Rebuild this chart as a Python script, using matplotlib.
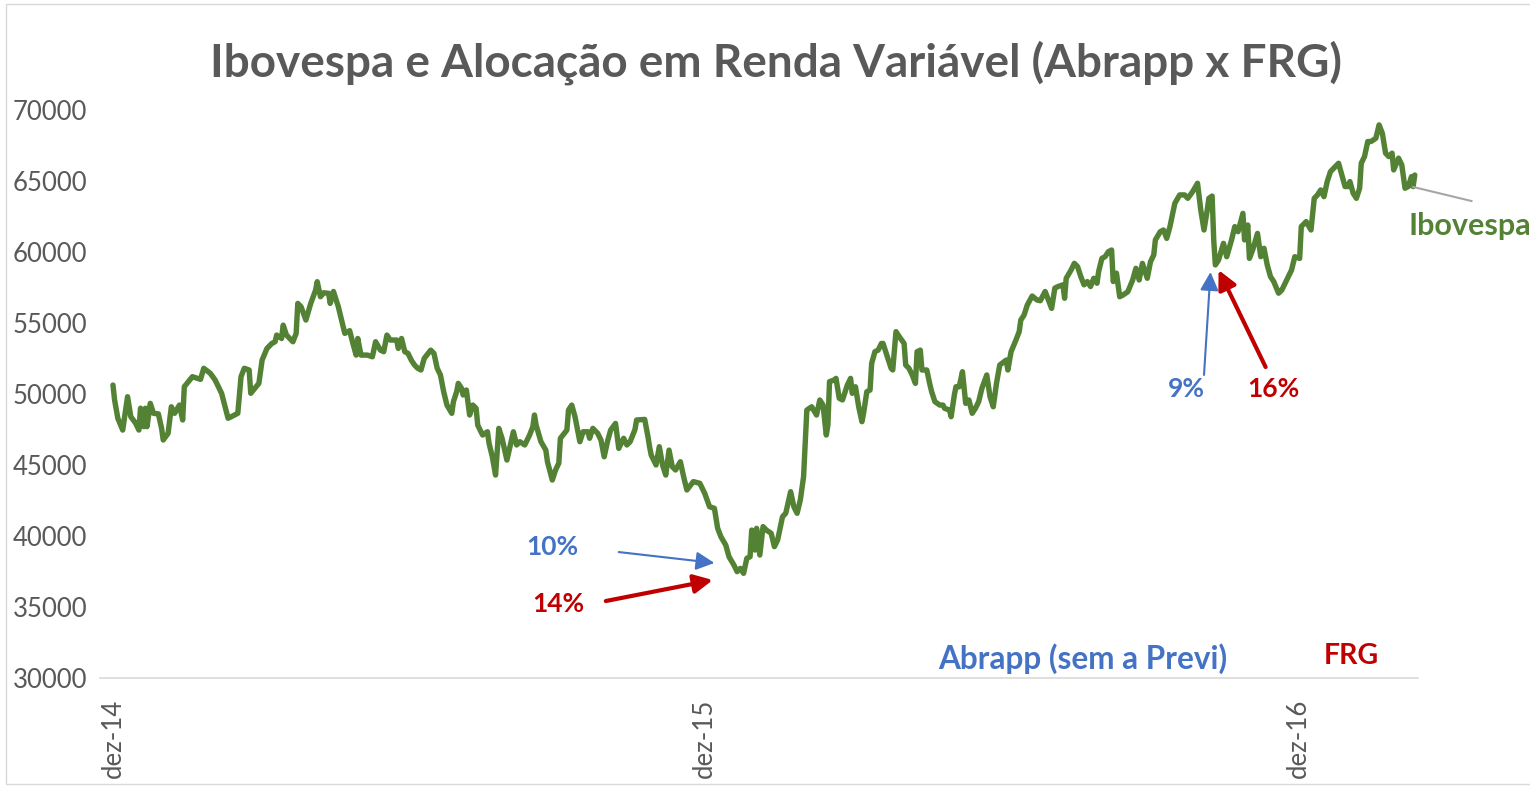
import matplotlib
matplotlib.use('Agg')
import matplotlib.pyplot as plt
import matplotlib.patches as mpatches

# --- dados (dias desde 01/12/2014, pontos do Ibovespa) ---
days = [0, 1, 3, 6, 9, 11, 14, 16, 17, 19, 20, 21, 23, 25, 28, 30, 31, 34, 36, 38,
        41, 43, 44, 49, 54, 56, 60, 63, 67, 71, 73, 77, 79, 81, 84, 85, 90, 92, 95, 98,
        100, 101, 104, 105, 107, 111, 113, 114, 116, 119, 122, 125, 126, 128, 130, 133, 134, 136, 139, 142,
        143, 146, 148, 150, 151, 153, 157, 160, 162, 165, 167, 169, 171, 175, 176, 178, 180, 182, 184, 186,
        188, 190, 192, 196, 198, 200, 202, 204, 206, 209, 210, 212, 213, 215, 216, 218, 220, 222, 224, 225,
        228, 231, 232, 234, 236, 238, 240, 243, 247, 249, 251, 254, 257, 259, 260, 261, 264, 267, 268, 271,
        273, 275, 276, 280, 281, 283, 285, 288, 290, 293, 294, 296, 299, 301, 303, 305, 307, 310, 312, 315,
        317, 319, 322, 323, 328, 330, 331, 332, 335, 337, 339, 341, 343, 345, 347, 350, 352, 354, 358, 362,
        365, 368, 371, 373, 375, 378, 380, 383, 385, 387, 389, 391, 393, 394, 396, 397, 399, 401, 403, 406,
        408, 410, 413, 415, 418, 420, 422, 424, 426, 427, 428, 431, 434, 436, 438, 440, 441, 442, 445, 446,
        448, 450, 453, 455, 456, 458, 460, 462, 463, 465, 467, 468, 470, 472, 474, 475, 477, 480, 481, 483,
        485, 488, 489, 491, 493, 495, 496, 498, 499, 502, 504, 505, 507, 510, 512, 513, 516, 517, 519, 520,
        522, 524, 526, 528, 530, 532, 534, 536, 539, 541, 543, 545, 547, 551, 552, 554, 557, 559, 560, 562,
        564, 567, 570, 572, 575, 577, 579, 581, 583, 586, 587, 588, 591, 593, 595, 597, 599, 601, 603, 605,
        607, 608, 610, 612, 614, 616, 617, 619, 621, 623, 626, 629, 631, 633, 635, 638, 640, 642, 643, 646,
        648, 650, 652, 655, 658, 661, 663, 666, 669, 671, 673, 675, 676, 678, 679, 680, 682, 685, 687, 690,
        692, 694, 697, 698, 700, 701, 703, 706, 708, 710, 712, 714, 716, 719, 721, 724, 727, 729, 732, 733,
        736, 739, 741, 743, 745, 747, 749, 751, 756, 758, 760, 762, 763, 765, 767, 769, 770, 772, 774, 776,
        779, 781, 783, 785, 787, 789, 790, 793, 795, 797, 799, 801, 802, 803]

ibovespa = [50630, 49580, 48290, 47460, 49810, 48400, 47940, 47460, 49000, 47700, 49000, 47700, 49340, 48640, 48600, 47580, 46760, 47230, 49100, 48640,
            49220, 48170, 50510, 51220, 51030, 51810, 51460, 50990, 50050, 48290, 48400, 48640, 51220, 51810, 51690, 50050, 50750, 52390, 53210, 53560,
            53680, 54150, 53910, 54850, 54150, 53680, 54270, 56380, 56150, 55210, 56380, 57320, 57910, 56850, 57130, 57090, 56380, 57220, 56150, 54740,
            54270, 54460, 53560, 52740, 53910, 52740, 52740, 52620, 53680, 53090, 52980, 54150, 53800, 53800, 53210, 53910, 52980, 52860, 52390, 52040,
            51810, 51690, 52510, 53090, 52860, 51810, 51340, 50160, 49220, 48640, 49460, 50160, 50750, 50400, 49930, 50280, 48520, 49220, 48990, 47810,
            47110, 47340, 46520, 45580, 44290, 47580, 46880, 45350, 47340, 46410, 46640, 46410, 47110, 47700, 48520, 47810, 46640, 46050, 45230, 43940,
            44650, 45120, 46880, 47460, 48870, 49220, 48400, 46640, 47340, 47340, 46880, 47580, 47230, 46760, 45580, 46640, 47460, 47930, 46170, 46880,
            46410, 46640, 47500, 48170, 48210, 47000, 46290, 45700, 45000, 46290, 45000, 44290, 46050, 44880, 44650, 45230, 44180, 43240, 43830, 43710,
            43010, 42060, 41950, 40540, 39950, 39360, 38540, 37960, 37490, 37720, 37370, 38430, 38540, 40420, 39010, 40540, 38660, 40660, 40420, 40190,
            39250, 39720, 41360, 41600, 43120, 42060, 41600, 42540, 44180, 46520, 48870, 49100, 48520, 49580, 49220, 47110, 47810, 50870, 50990, 51100,
            49700, 49580, 50630, 51100, 50050, 50510, 49100, 48050, 48640, 50160, 50280, 52160, 52980, 53090, 53560, 53560, 52860, 51810, 51690, 54390,
            54040, 53560, 52040, 51810, 51340, 50750, 52980, 53090, 51690, 51690, 50630, 50160, 49460, 49220, 49220, 48990, 48870, 48400, 49930, 50510,
            50510, 51570, 49340, 49580, 48640, 48990, 49460, 50400, 51340, 49810, 49100, 50750, 52040, 52390, 51690, 52980, 53800, 54390, 55210, 55560,
            56270, 56900, 56620, 56570, 57220, 56620, 56030, 57460, 57570, 57690, 56740, 58150, 58730, 59200, 58970, 58270, 57690, 57920, 57570, 58150,
            57800, 58620, 59550, 59670, 60020, 60140, 57920, 58510, 56850, 56970, 57200, 58030, 58850, 58030, 59200, 58150, 59320, 59790, 60850, 61430,
            61550, 60960, 61790, 63430, 64020, 64020, 63780, 64250, 64840, 62960, 61550, 62960, 63780, 63940, 60850, 59090, 59440, 60610, 59670, 60850,
            61790, 61430, 62720, 60850, 61900, 59550, 60140, 61310, 59670, 60260, 59090, 58270, 57920, 57100, 57320, 58030, 58730, 59670, 59550, 61790,
            62140, 61550, 63780, 64020, 64370, 63900, 64960, 65660, 66250, 65420, 64610, 64610, 64960, 64140, 63780, 64490, 66250, 66720, 67780, 67780,
            68010, 68950, 68360, 66960, 66720, 66960, 65780, 66610, 66130, 64490, 64610, 65310, 64610, 65420]

tick_days = [0, 365, 731]
tick_labels = ['dez-14', 'dez-15', 'dez-16']
y_ticks = [30000, 35000, 40000, 45000, 50000, 55000, 60000, 65000, 70000]

GREEN = '#548235'
BLUE = '#4472C4'
RED = '#C00000'
GRAY = '#595959'

plt.rcParams['font.family'] = ['Lato', 'DejaVu Sans']

fig = plt.figure(figsize=(15.3, 7.87), dpi=100)
ax = fig.add_axes([100 / 1530, 109 / 787, 1318 / 1530, 568 / 787])

# borda do gráfico
fig.patches.append(mpatches.Rectangle((6 / 1530, 3 / 787), 1.1, 780 / 787, transform=fig.transFigure,
                                      fill=False, edgecolor='#D9D9D9', lw=1))

ax.plot(days, ibovespa, color=GREEN, lw=3.9, solid_joinstyle='round', solid_capstyle='round')

ax.set_xlim(-8, 805)
ax.set_ylim(30000, 70000)
ax.set_yticks(y_ticks)
ax.set_yticklabels([str(v) for v in y_ticks])
ax.set_xticks(tick_days)
ax.set_xticklabels(tick_labels, rotation=90)
ax.tick_params(axis='y', length=0, pad=9, labelsize=18.5, labelcolor=GRAY)
ax.tick_params(axis='x', length=0, pad=15, labelsize=18.5, labelcolor=GRAY)
for s in ['top', 'right', 'left']:
    ax.spines[s].set_visible(False)
ax.spines['bottom'].set_color('#D9D9D9')
ax.spines['bottom'].set_linewidth(1.2)

fig.text(776 / 1530, 1 - 63 / 787, 'Ibovespa e Alocação em Renda Variável (Abrapp x FRG)',
         ha='center', va='center', fontsize=33, fontweight='bold', color=GRAY)

# setas e rótulos
ax.annotate('', xy=(371, 38100), xytext=(312, 38870),
            arrowprops=dict(arrowstyle='-|>', color=BLUE, lw=1.5, mutation_scale=28, shrinkA=0, shrinkB=0))
ax.annotate('', xy=(370, 36900), xytext=(304, 35420),
            arrowprops=dict(arrowstyle='-|>', color=RED, lw=3, mutation_scale=28, shrinkA=0, shrinkB=0))
ax.annotate('', xy=(677, 58590), xytext=(673, 51340),
            arrowprops=dict(arrowstyle='-|>', color=BLUE, lw=1.5, mutation_scale=28, shrinkA=0, shrinkB=0))
ax.annotate('', xy=(682, 58730), xytext=(711, 51900),
            arrowprops=dict(arrowstyle='-|>', color=RED, lw=3, mutation_scale=28, shrinkA=0, shrinkB=0))

ax.text(271, 39225, '10%', color=BLUE, fontsize=19, fontweight='bold', ha='center', va='center')
ax.text(275, 35210, '14%', color=RED, fontsize=19, fontweight='bold', ha='center', va='center')
ax.text(662, 50350, '9%', color=BLUE, fontsize=19, fontweight='bold', ha='center', va='center')
ax.text(716, 50350, '16%', color=RED, fontsize=19, fontweight='bold', ha='center', va='center')
ax.text(598, 31340, 'Abrapp (sem a Previ)', color=BLUE, fontsize=22.7, fontweight='bold', ha='center', va='center')
ax.text(764, 31550, 'FRG', color=RED, fontsize=20.5, fontweight='bold', ha='center', va='center')

ax.plot([802, 838], [64580, 63590], color='#A6A6A6', lw=1.5, clip_on=False)
ax.text(799, 61830, 'Ibovespa', color=GREEN, fontsize=22, fontweight='bold', ha='left', va='center',
        clip_on=False)

fig.savefig('out.png', dpi=100)
